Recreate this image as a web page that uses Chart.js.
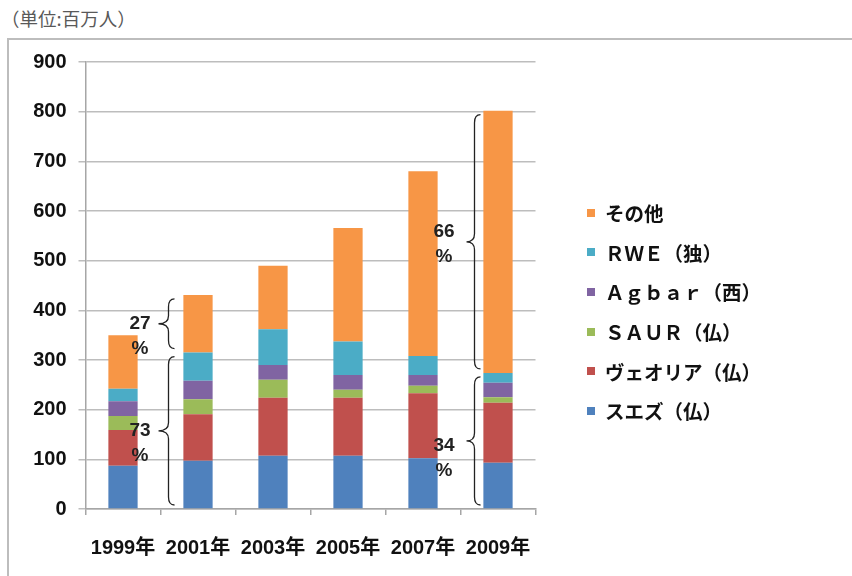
<!DOCTYPE html>
<html>
<head>
<meta charset="utf-8">
<script src="https://cdn.jsdelivr.net/npm/chart.js@4"></script>
<style>
  html, body { margin: 0; padding: 0; background: #fff; }
  body { width: 852px; height: 576px; position: relative; overflow: hidden; }
  #unit { position: absolute; left: 1px; top: 5px; font: 18.5px "Noto Sans CJK JP", sans-serif; color: #595959; }
  #frame { position: absolute; left: 7px; top: 38px; width: 860px; height: 560px;
           border-top: 2px solid #bdbdbd; border-left: 2px solid #bdbdbd; }
  #wrap { position: absolute; left: 0; top: 0; width: 852px; height: 576px; }
  #legend { position: absolute; left: 587px; top: 193px; }
  .item { height: 39.6px; display: flex; align-items: center;
          font: bold 19.5px "Noto Sans CJK JP", sans-serif; color: #111; }
  .box { width: 8px; height: 8px; margin-right: 10px; }
</style>
</head>
<body>
<div id="unit">（単位:百万人）</div>
<div id="frame"></div>
<div id="wrap"><canvas id="chart" width="852" height="576"></canvas></div>
<div id="legend"></div>
<script>
// categories and series (million people served)
const years = ['1999年', '2001年', '2003年', '2005年', '2007年', '2009年'];
const suez    = [87, 97, 107, 107, 102, 93];
const veolia  = [72, 94, 117, 117, 131, 121];
const saur    = [28, 30, 36, 16, 15, 11];
const agbar   = [30, 37, 30, 30, 22, 29];
const rwe     = [25, 57, 72, 67, 38, 20];
const others  = [108, 116, 128, 229, 372, 528];
const yTicks  = [0, 100, 200, 300, 400, 500, 600, 700, 800, 900];

// share braces: which year, lower (big six) / upper (others), label
const braceYears = ['2001年', '2001年', '2009年', '2009年'];
const bracePart  = ['major', 'others', 'major', 'others'];
const braceText  = ['73', '27', '34', '66'];

const seriesNames  = ['スエズ（仏）', 'ヴェオリア（仏）', 'ＳＡＵＲ（仏）', 'Ａｇｂａｒ（西）', 'ＲＷＥ（独）', 'その他'];
const seriesColors = ['#4F81BD', '#C0504D', '#9BBB59', '#8064A2', '#4BACC6', '#F79646'];
const seriesData   = [suez, veolia, saur, agbar, rwe, others];

const fontFamily = '"Liberation Sans", "Noto Sans CJK JP", sans-serif';
const yFont = { family: fontFamily, size: 20, weight: 'bold' };
const xFont = { family: fontFamily, size: 20, weight: 'bold' };

const bracePlugin = {
    id: 'braces',
    afterDatasetsDraw(chart) {
        const ctx = chart.ctx;
        const x = chart.scales.x, y = chart.scales.y;
        ctx.save();
        ctx.strokeStyle = '#222';
        ctx.lineWidth = 1.3;
        ctx.fillStyle = '#222';
        ctx.font = 'bold 19px ' + fontFamily;
        ctx.textBaseline = 'middle';
        ctx.textAlign = 'left';
        braceYears.forEach((yr, k) => {
            const i = years.indexOf(yr);
            const major = suez[i] + veolia[i] + saur[i] + agbar[i] + rwe[i];
            const total = major + others[i];
            const lo = bracePart[k] === 'major' ? 0 : major;
            const hi = bracePart[k] === 'major' ? major : total;
            const top = y.getPixelForValue(hi) + 4;
            const bot = y.getPixelForValue(lo) - 4;
            const mid = (top + bot) / 2;
            const cx = x.getPixelForValue(i);
            const first = i === 1;
            const tx = cx + (first ? -39.5 : -31.5);
            const bx = tx + (first ? 10 : 8);
            const ex = bx + 6;
            const r = 8;
            ctx.beginPath();
            ctx.moveTo(ex, top);
            ctx.quadraticCurveTo(bx, top, bx, top + r);
            ctx.lineTo(bx, mid - r);
            ctx.quadraticCurveTo(bx, mid, tx, mid);
            ctx.quadraticCurveTo(bx, mid, bx, mid + r);
            ctx.lineTo(bx, bot - r);
            ctx.quadraticCurveTo(bx, bot, ex, bot);
            ctx.stroke();
            const lx = tx - (first ? 29 : 33);
            const ly = mid + (first ? 0 : (bracePart[k] === 'major' ? 5 : -10));
            ctx.fillText(braceText[k], lx, ly);
            ctx.fillText('%', lx + 2, ly + 25);
        });
        ctx.restore();
    }
};

const chart = new Chart(document.getElementById('chart').getContext('2d'), {
    type: 'bar',
    data: {
        labels: years,
        datasets: seriesData.map((d, i) => ({
            label: seriesNames[i],
            data: d,
            backgroundColor: seriesColors[i],
            borderWidth: 0,
            categoryPercentage: 1,
            barPercentage: 0.39
        }))
    },
    options: {
        responsive: false,
        animation: false,
        layout: { padding: { left: 0, top: 62, right: 316.5, bottom: 0 } },
        scales: {
            x: {
                stacked: true,
                grid: { drawOnChartArea: false, drawTicks: true, tickLength: 6, color: '#a6a6a6', lineWidth: 1.5 },
                border: { color: '#a6a6a6', width: 1.5 },
                ticks: { font: xFont, color: '#111', padding: 21, maxRotation: 0 },
                afterFit(scale) { scale.height = 67; }
            },
            y: {
                stacked: true,
                min: 0,
                max: 900,
                afterBuildTicks(scale) { scale.ticks = yTicks.map(v => ({ value: v })); },
                grid: { color: '#bdbdbd', lineWidth: 1.5, tickLength: 7 },
                border: { color: '#a6a6a6', width: 1.5 },
                ticks: { font: yFont, color: '#111', padding: 12 },
                afterFit(scale) { scale.width = 85.5; }
            }
        },
        plugins: {
            legend: { display: false },
            tooltip: { enabled: false }
        }
    },
    plugins: [bracePlugin]
});

// legend, top to bottom in reverse stacking order
const legendEl = document.getElementById('legend');
chart.data.datasets.slice().reverse().forEach(ds => {
    const row = document.createElement('div');
    row.className = 'item';
    row.innerHTML = `<span class="box" style="background:${ds.backgroundColor}"></span>${ds.label}`;
    legendEl.appendChild(row);
});
</script>
</body>
</html>
